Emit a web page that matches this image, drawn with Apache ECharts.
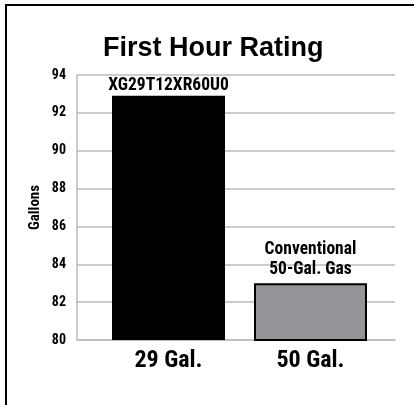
<!DOCTYPE html>
<html>
<head>
<meta charset="utf-8">
<script src="https://cdn.jsdelivr.net/npm/echarts@6/dist/echarts.min.js"></script>
<style>html,body{margin:0;padding:0;background:#fff;}#c{width:414px;height:405px;}</style>
</head>
<body>
<div id="c"></div>
<script>
var categories = ['29 Gal.', '50 Gal.'];
var values = [92.9, 83];
var barLabels = ['XG29T12XR60U0', 'Conventional\n50-Gal. Gas'];
var barColors = ['#000000', '#939598'];
var yMin = 80, yMax = 94, yStep = 2;
var titleText = 'First Hour Rating';
var yName = 'Gallons';

var NARROW = '"Roboto Condensed"';
var chart = echarts.init(document.getElementById('c'), null, {renderer: 'canvas'});
var option = {
  backgroundColor: '#fff',
  animation: false,
  graphic: [{
    type: 'rect', silent: true, z: 100,
    shape: {x: 6, y: 5, width: 600, height: 600},
    style: {fill: 'none', stroke: '#000', lineWidth: 2}
  }],
  title: {
    text: titleText, left: 103, top: 35, padding: 0,
    textStyle: {fontFamily: '"Liberation Sans", Arial, sans-serif', fontWeight: 'bold', fontSize: 27, color: '#000'}
  },
  grid: [
    {left: 77, top: 75, width: 318, height: 265},
    {left: 97.5, top: 75, width: 284, height: 265}
  ],
  xAxis: [
    {type: 'category', gridIndex: 0, data: categories,
     axisLine: {lineStyle: {color: '#bbbbbb', width: 1.5}}, axisTick: {show: false}, axisLabel: {show: false}},
    {type: 'category', gridIndex: 1, data: categories,
     axisLine: {show: false}, axisTick: {show: false},
     axisLabel: {margin: 9, color: '#000', fontFamily: NARROW, fontWeight: 'bold', fontSize: 24}}
  ],
  yAxis: [
    {type: 'value', gridIndex: 0, min: yMin, max: yMax, interval: yStep,
     name: yName, nameLocation: 'middle', nameRotate: 90, nameGap: 34, nameMoveOverlap: false,
     nameTextStyle: {color: '#000', fontFamily: NARROW, fontWeight: 'bold', fontSize: 15},
     axisLine: {show: true, lineStyle: {color: '#bbbbbb', width: 1.5}}, axisTick: {show: false},
     splitLine: {lineStyle: {color: '#bbbbbb', width: 1.5}},
     axisLabel: {margin: 11, color: '#000', fontFamily: NARROW, fontWeight: 'bold', fontSize: 14}},
    {type: 'value', gridIndex: 1, min: yMin, max: yMax, interval: yStep, show: false}
  ],
  series: [{
    type: 'bar', xAxisIndex: 1, yAxisIndex: 1, barWidth: 113,
    data: values.map(function (v, i) {
      return {
        value: v,
        itemStyle: {color: barColors[i], borderColor: '#000', borderWidth: i === 0 ? 0 : 2},
        label: {distance: i === 0 ? 0 : 4}
      };
    }),
    label: {
      show: true, position: 'top',
      formatter: function (p) { return barLabels[p.dataIndex]; },
      color: '#000', fontFamily: NARROW, fontWeight: 'bold', fontSize: 17.5, lineHeight: 20
    }
  }]
};
chart.setOption(option);
</script>
</body>
</html>
